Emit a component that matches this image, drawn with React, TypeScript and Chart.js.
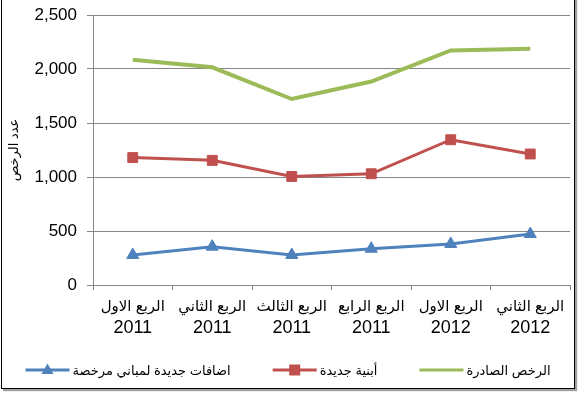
import React, { useEffect, useRef } from 'react';
import { Chart, registerables } from 'chart.js';

Chart.register(...registerables);

const categories: string[][] = [
  ['الربع الاول', '2011'],
  ['الربع الثاني', '2011'],
  ['الربع الثالث', '2011'],
  ['الربع الرابع', '2011'],
  ['الربع الاول', '2012'],
  ['الربع الثاني', '2012'],
];
const additionsValues = [278, 355, 278, 336, 380, 472];
const newBuildingsValues = [1180, 1154, 1005, 1030, 1345, 1213];
const permitsValues = [2086, 2016, 1722, 1884, 2172, 2188];
const seriesLabels = ['اضافات جديدة لمباني مرخصة', 'أبنية جديدة', 'الرخص الصادرة'];
const seriesColors = ['#4F81BD', '#C0504D', '#9BBB59'];
const yMin = 0;
const yMax = 2500;
const yStep = 500;
const yTitle = 'عدد الرخص';

const FONT = '"Liberation Sans", "DejaVu Sans", Arial, sans-serif';

const xLabelPlugin = {
  id: 'twoFontXLabels',
  afterDraw(chart: any) {
    const ctx = chart.ctx as CanvasRenderingContext2D;
    const xs = chart.scales.x;
    ctx.save();
    ctx.fillStyle = '#000';
    ctx.textAlign = 'center';
    ctx.textBaseline = 'middle';
    xs.ticks.forEach((_t: any, i: number) => {
      const x = xs.getPixelForTick(i);
      const lbl = chart.data.labels[i] as string[];
      ctx.font = '15px ' + FONT;
      ctx.fillText(lbl[0], x, xs.top + 22);
      ctx.font = '18px ' + FONT;
      ctx.fillText(lbl[1], x, xs.top + 43);
    });
    ctx.restore();
  },
};

const legendPlugin = {
  id: 'excelLegend',
  afterDraw(chart: any) {
    const ctx = chart.ctx as CanvasRenderingContext2D;
    ctx.save();
    ctx.font = '13px ' + FONT;
    ctx.textBaseline = 'middle';
    ctx.textAlign = 'left';
    const symW = 44;
    const symGap = 3;
    const itemGap = 42;
    const centerX = 288;
    const y = 370;
    const items = chart.data.datasets.map((ds: any) => ({ ds, w: ctx.measureText(ds.label).width }));
    const total =
      items.reduce((a: number, it: any) => a + symW + symGap + it.w, 0) + itemGap * (items.length - 1);
    let x = centerX - total / 2;
    for (const it of items) {
      const ds = it.ds;
      ctx.strokeStyle = ds.borderColor;
      ctx.lineWidth = 3;
      ctx.beginPath();
      ctx.moveTo(x, y);
      ctx.lineTo(x + symW, y);
      ctx.stroke();
      const mx = x + symW / 2;
      ctx.fillStyle = ds.borderColor;
      if (ds.pointStyle === 'rect' && ds.pointRadius > 0) {
        ctx.fillRect(mx - 5.5, y - 5.5, 11, 11);
      } else if (ds.pointStyle === 'triangle' && ds.pointRadius > 0) {
        ctx.beginPath();
        ctx.moveTo(mx, y - 6.5);
        ctx.lineTo(mx + 6, y + 4);
        ctx.lineTo(mx - 6, y + 4);
        ctx.closePath();
        ctx.fill();
      }
      ctx.fillStyle = '#000';
      ctx.fillText(ds.label, x + symW + symGap, y + 1);
      x += symW + symGap + it.w + itemGap;
    }
    ctx.restore();
  },
};

export default function App() {
  const ref = useRef<HTMLCanvasElement | null>(null);
  useEffect(() => {
    document.body.style.margin = '0';
    const canvas = ref.current;
    if (!canvas) return;
    const chart = new Chart(canvas, {
      type: 'line',
      data: {
        labels: categories,
        datasets: [
          {
            label: seriesLabels[0],
            data: additionsValues,
            borderColor: seriesColors[0],
            backgroundColor: seriesColors[0],
            borderWidth: 3,
            pointStyle: 'triangle',
            pointRadius: 7,
            pointBorderWidth: 1,
            tension: 0,
          },
          {
            label: seriesLabels[1],
            data: newBuildingsValues,
            borderColor: seriesColors[1],
            backgroundColor: seriesColors[1],
            borderWidth: 3,
            pointStyle: 'rect',
            pointRadius: 7,
            pointBorderWidth: 1,
            tension: 0,
          },
          {
            label: seriesLabels[2],
            data: permitsValues,
            borderColor: seriesColors[2],
            backgroundColor: seriesColors[2],
            borderWidth: 4,
            pointRadius: 0,
            tension: 0,
          },
        ],
      },
      options: {
        animation: false,
        responsive: false,
        maintainAspectRatio: false,
        layout: { padding: { left: 1, right: 3, top: 15, bottom: 0 } },
        plugins: {
          legend: { display: false },
          tooltip: { enabled: false },
        },
        scales: {
          x: {
            type: 'category',
            offset: true,
            afterFit: (s: any) => {
              s.height = 108;
              s.paddingLeft = 0;
              s.paddingRight = 0;
            },
            grid: {
              drawOnChartArea: false,
              drawTicks: true,
              tickLength: 5,
              color: '#868686',
              offset: true,
            },
            border: { display: true, color: '#868686', width: 1 },
            ticks: {
              display: false,
              autoSkip: false,
              maxRotation: 0,
              minRotation: 0,
            },
          },
          y: {
            min: yMin,
            max: yMax,
            afterFit: (s: any) => {
              s.width = 92;
              s.paddingTop = 0;
              s.paddingBottom = 0;
            },
            grid: {
              color: '#868686',
              tickLength: 6,
              drawTicks: true,
            },
            border: { display: true, color: '#868686', width: 1 },
            ticks: {
              stepSize: yStep,
              padding: 10,
              color: '#000',
              font: { family: FONT, size: 17 },
              callback: (v: any) => Number(v).toLocaleString('en-US'),
            },
            title: {
              display: true,
              text: yTitle,
              color: '#000',
              padding: { top: 6, bottom: 0 },
              font: { family: FONT, size: 13 },
            },
          },
        },
      },
      plugins: [xLabelPlugin, legendPlugin],
    });
    return () => chart.destroy();
  }, []);

  return (
    <div style={{ position: 'relative', width: 578, height: 393, overflow: 'hidden', background: '#fff' }}>
      <div
        style={{
          position: 'absolute',
          left: 1,
          top: -3,
          width: 574,
          height: 392,
          border: '1px solid #000',
          boxShadow: '2px 2px 1px #a0a0a0',
          boxSizing: 'border-box',
        }}
      />
      <canvas ref={ref} width={578} height={393} style={{ position: 'absolute', left: 0, top: 0 }} />
    </div>
  );
}
